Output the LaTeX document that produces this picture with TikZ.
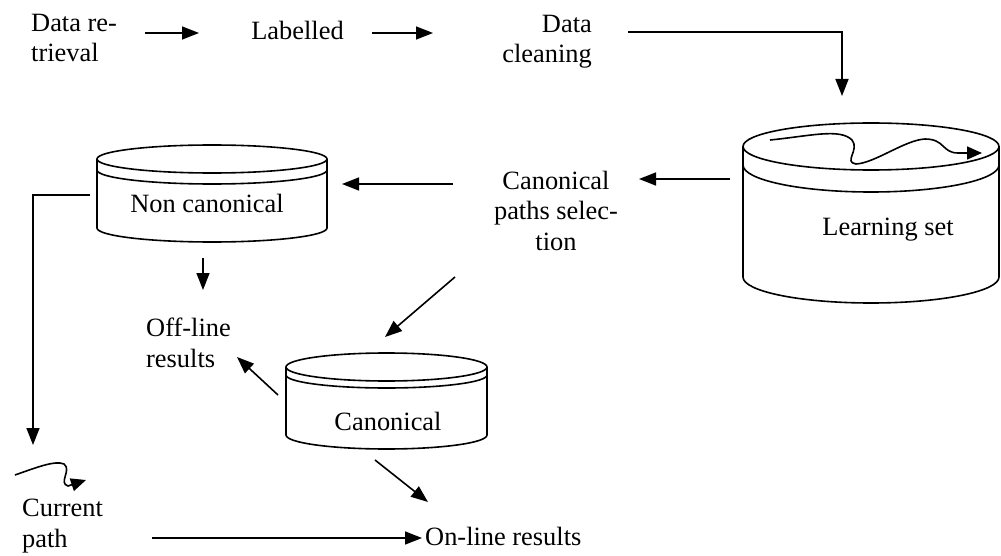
\documentclass[tikz,border=0pt]{standalone}
\usepackage{fontspec}
\setmainfont{Liberation Serif}
\usetikzlibrary{arrows.meta}
\begin{document}
\begin{tikzpicture}[x=1pt,y=1pt,
  txt/.style={font=\fontsize{26.4}{30.5}\selectfont, inner sep=0pt, anchor=base},
  arr/.style={line width=1.6pt, -{Triangle[length=17pt,width=13pt]}},
  sarr/.style={line width=1.6pt, -{Triangle[length=15pt,width=13pt]}},
  drum/.style={line width=1.6pt}]
\useasboundingbox (0,0) rectangle (1001,-556);

% ---------- cylinders ----------
% Learning set
\draw[drum] (871,-146.5) ellipse [x radius=128, y radius=23.5];
\draw[drum] (743,-165) arc [start angle=180, end angle=360, x radius=128, y radius=27];
\draw[drum] (743,-146.5) -- (743,-277) arc [start angle=180, end angle=360, x radius=128, y radius=26] -- (999,-146.5);
\node[inner sep=0pt, minimum width=256pt, minimum height=180pt] (ls) at (871,-213) {};
% Non canonical
\draw[drum] (212,-159) ellipse [x radius=115, y radius=14];
\draw[drum] (97,-170) arc [start angle=180, end angle=360, x radius=115, y radius=14];
\draw[drum] (97,-159) -- (97,-228) arc [start angle=180, end angle=360, x radius=115, y radius=14] -- (327,-159);
\node[inner sep=0pt, minimum width=230pt, minimum height=97pt] (nc) at (212,-193.5) {};
% Canonical
\draw[drum] (386.5,-367) ellipse [x radius=100.5, y radius=14];
\draw[drum] (286,-375) arc [start angle=180, end angle=360, x radius=100.5, y radius=13];
\draw[drum] (286,-367) -- (286,-435) arc [start angle=180, end angle=360, x radius=100.5, y radius=14] -- (487,-367);
\node[inner sep=0pt, minimum width=201pt, minimum height=96pt] (ca) at (386.5,-401) {};

% ---------- texts (multi-line nodes: base = last line) ----------
\node[txt, align=left, anchor=base west] (dr) at (31,-62) {Data re-\\trieval};
\node[txt] (lab) at (297.5,-40) {Labelled};
\node[txt, align=right, anchor=base east] (dc) at (592,-63) {Data\\cleaning};
\node[txt, align=center] (cps) at (556,-250) {Canonical\\paths selec-\\tion};
\node[txt] (lst) at (888,-235) {Learning set};
\node[txt] (nct) at (207,-213) {Non canonical};
\node[txt] (cat) at (388,-430) {Canonical};
\node[txt, align=left, anchor=base west] (off) at (146,-367) {Off-line\\results};
\node[txt, align=left, anchor=base west] (cur) at (22,-547) {Current\\path};
\node[txt, anchor=base west] (onl) at (425,-545) {On-line results};

% ---------- connector end points ----------
\coordinate (a1s) at (145,-33);  \coordinate (a1e) at (199,-33);
\coordinate (a2s) at (372,-33);  \coordinate (a2e) at (433,-33);
\coordinate (a3s) at (628,-32);  \coordinate (a3e) at (842,-96);
\coordinate (a4s) at (730,-179); \coordinate (a4e) at (639,-179);
\coordinate (a5s) at (453,-184); \coordinate (a5e) at (342,-184);
\coordinate (a6s) at (90,-195);  \coordinate (a6e) at (33,-445);
\coordinate (a7s) at (203,-258); \coordinate (a7e) at (203,-290);
\coordinate (a8s) at (455,-277); \coordinate (a8e) at (385,-337);
\coordinate (a9s) at (278,-395); \coordinate (a9e) at (237,-357);
\coordinate (a10s) at (375,-460); \coordinate (a10e) at (428,-502);
\coordinate (a11s) at (152,-538); \coordinate (a11e) at (422,-538);

% ---------- connectors ----------
\draw[arr] (a1s) -- (a1e);
\draw[arr] (a2s) -- (a2e);
\draw[arr] (a3s) -| (a3e);
\draw[arr] (a4s) -- (a4e);
\draw[arr] (a5s) -- (a5e);
\draw[arr] (a6s) -| (a6e);
\draw[arr] (a7s) -- (a7e);
\draw[arr] (a8s) -- (a8e);
\draw[arr] (a9s) -- (a9e);
\draw[arr] (a10s) -- (a10e);
\draw[arr] (a11s) -- (a11e);

% ---------- squiggles ----------
\draw[sarr] (770,-140) .. controls (810,-136) and (840,-128) .. (852,-140)
  .. controls (860,-150) and (843,-162) .. (856,-164)
  .. controls (875,-163) and (905,-140) .. (925,-139)
  .. controls (945,-139) and (942,-153) .. (958,-153) -- (982,-153);
\draw[sarr] (15,-475) .. controls (35,-468) and (55,-460) .. (64,-464)
  .. controls (72,-470) and (58,-483) .. (68,-486) -- (86,-480);
\end{tikzpicture}
\end{document}
